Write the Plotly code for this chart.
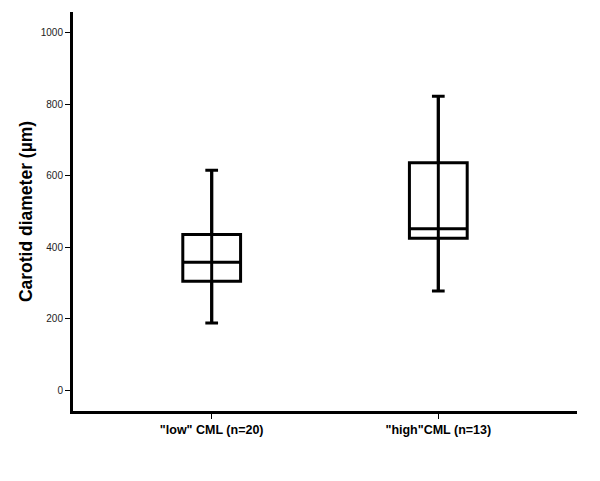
import plotly.graph_objects as go

categories = ['"low" CML (n=20)', '"high"CML (n=13)']
lower_whisker = [189, 278]
q1_values = [305, 425]
median_values = [358, 452]
q3_values = [436, 636]
upper_whisker = [615, 822]
y_ticks = [0, 200, 400, 600, 800, 1000]

fig = go.Figure()

# vertical whisker line passing through each box
for cat, lo, hi in zip(categories, lower_whisker, upper_whisker):
    fig.add_trace(go.Scatter(
        x=[cat, cat], y=[lo, hi], mode="lines",
        line=dict(color="black", width=3), hoverinfo="skip", showlegend=False,
    ))

fig.add_trace(go.Box(
    x=categories,
    q1=q1_values, median=median_values, q3=q3_values,
    lowerfence=lower_whisker, upperfence=upper_whisker,
    line=dict(color="black", width=3),
    fillcolor="rgba(0,0,0,0)",
    width=0.255, whiskerwidth=0.22,
    boxpoints=False, showlegend=False, hoverinfo="skip",
))

# page body has an 8px margin, so the figure is sized to fill the rest of the window
fig.update_layout(
    width=592, height=473,
    margin=dict(l=65, r=23, t=4, b=70),
    paper_bgcolor="white", plot_bgcolor="white",
    font=dict(family="Arial, Liberation Sans, sans-serif", color="black"),
    showlegend=False,
)

fig.update_xaxes(
    type="category", categoryorder="array", categoryarray=categories,
    range=[-0.612, 1.612],
    showline=True, linecolor="black", linewidth=3,
    ticks="outside", ticklen=5, tickwidth=1, tickcolor="black",
    tickfont=dict(size=12.5, family="Arial, Liberation Sans, sans-serif", color="black", weight="bold"),
    showgrid=False, zeroline=False,
)

fig.update_yaxes(
    range=[-57, 1057],
    tickvals=y_ticks, ticktext=[str(v) for v in y_ticks],
    showline=True, linecolor="black", linewidth=3,
    ticks="outside", ticklen=5, tickwidth=1, tickcolor="black",
    tickfont=dict(size=10, color="#222"),
    showgrid=False, zeroline=False,
    title=dict(text="Carotid diameter (µm)", standoff=4,
               font=dict(size=17.5, weight="bold", color="black")),
)

fig.write_html("out.html")
